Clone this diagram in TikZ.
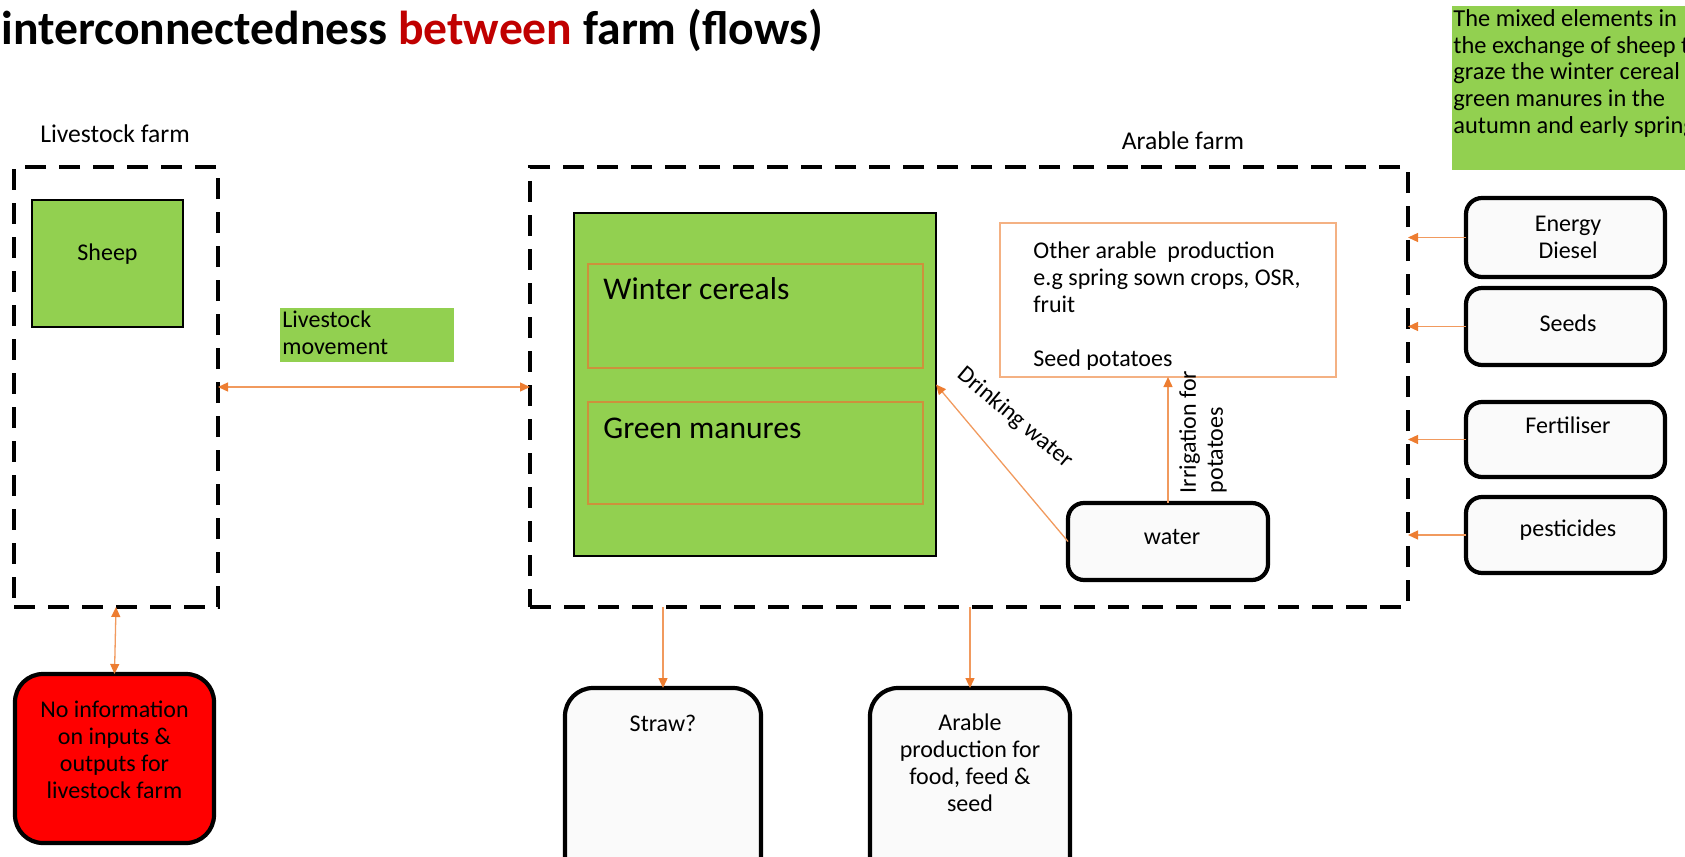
\documentclass[tikz,border=0pt]{standalone}
\usepackage{fontspec}
\setmainfont{Carlito}
\usetikzlibrary{arrows.meta}
\definecolor{grass}{HTML}{92D050}
\definecolor{flow}{HTML}{ED7D31}
\definecolor{flowline}{HTML}{F19A5E}
\definecolor{peach}{HTML}{F4B183}
\definecolor{rust}{HTML}{CD913C}
\definecolor{titlered}{HTML}{C00000}
\definecolor{paper}{HTML}{FAFAFA}
\begin{document}
\begin{tikzpicture}[x=0.5pt,y=-0.5pt,
  sz/.style 2 args={minimum width=#1*0.5pt,minimum height=#2*0.5pt},
  farm/.style={draw=black,line width=2.1pt,dash pattern=on 10.5pt off 6.5pt,inner sep=0pt,outer sep=0pt},
  rbox/.style={draw=black,line width=2.1pt,fill=paper,rounded corners=8pt,inner sep=0pt,outer sep=0pt},
  tallbox/.style={rbox,rounded corners=14pt},
  plain/.style={inner sep=0pt,outer sep=0pt},
  flowarrow/.style={draw=flowline,line width=0.65pt,-{Triangle[length=5pt,width=4.5pt,color=flow]}},
  twoway/.style={draw=flowline,line width=0.65pt,{Triangle[length=5pt,width=4.5pt,color=flow]}-{Triangle[length=5pt,width=4.5pt,color=flow]}},
  txt/.style={inner sep=0pt,font=\fontsize{12}{13.5}\selectfont,align=center},
  lefttxt/.style={txt,align=left,anchor=north west},
]
\useasboundingbox (0,0) rectangle (1685,856);
\clip (0,0) rectangle (1685,856);

% title
\node[anchor=base west,inner sep=0pt,font=\fontsize{23.8}{28}\selectfont\bfseries] (title) at (1,45)
  {interconnectedness \textcolor{titlered}{between} farm (flows)};

% farm boundaries
\node[farm,sz={204}{440}] (livestock) at (116,387) {};
\node[farm,sz={878}{440}] (arable) at (969,387) {};
\node[txt,font=\fontsize{12.8}{15}\selectfont] (lflab) at (115,134) {Livestock farm};
\node[txt,font=\fontsize{12.8}{15}\selectfont] (aflab) at (1183,141) {Arable farm};

% note
\node[plain,fill=grass,sz={240}{164},anchor=north west] (note) at (1452,6) {};
\node[lefttxt,font=\fontsize{12.2}{13.4}\selectfont] (notetxt) at (1453,9)
  {The mixed elements in\\the exchange of sheep to\\graze the winter cereal \&\\green manures in the\\autumn and early spring};

% livestock farm
\node[plain,draw=black,line width=0.7pt,fill=grass,sz={151}{127}] (sheep) at (107.5,263.5) {};
\node[txt] (sheeptxt) at (107.5,254) {Sheep};

\node[plain,fill=grass,sz={174}{54},anchor=north west] (move) at (280,308) {};
\node[lefttxt] (movetxt) at (282,310) {Livestock\\movement};

% arable farm
\node[plain,draw=black,line width=0.8pt,fill=grass,sz={362}{343}] (gbox) at (755,384.5) {};
\node[plain,draw=rust,line width=0.55pt,sz={335}{104}] (winter) at (755.5,316) {};
\node[plain,draw=rust,line width=0.55pt,sz={335}{102}] (manure) at (755.5,453) {};
\node[txt,anchor=west,font=\fontsize{15.8}{18}\selectfont] (wintertxt) at (603,289) {Winter cereals};
\node[txt,anchor=west,font=\fontsize{15.8}{18}\selectfont] (manuretxt) at (603,428) {Green manures};

\node[plain,draw=peach,line width=1pt,fill=white,sz={336}{154}] (other) at (1168,300) {};
\node[lefttxt] (othertxt) at (1033,241)
  {Other arable\ \ production\\e.g spring sown crops, OSR,\\fruit\\\mbox{}\\Seed potatoes};

\node[rbox,sz={200}{77}] (water) at (1168,541.5) {};
\node[txt] (watertxt) at (1172,537) {water};

% inputs
\node[rbox,sz={199}{79}] (energy) at (1565.5,237.5) {};
\node[rbox,sz={199}{77}] (seeds) at (1565.5,326.5) {};
\node[rbox,sz={199}{75}] (fert) at (1565.5,439.5) {};
\node[rbox,sz={199}{76}] (pest) at (1565.5,535) {};
\node[txt] (energytxt) at (1568,237) {Energy\\Diesel};
\node[txt] (seedstxt) at (1568,323) {Seeds};
\node[txt] (ferttxt) at (1568,425) {Fertiliser};
\node[txt] (pesttxt) at (1568,530) {pesticides};

% outputs
\node[tallbox,fill=red,sz={199}{169}] (noinfo) at (114.5,758.5) {};
\node[txt] (noinfotxt) at (114.5,750) {No information\\on inputs \&\\outputs for\\livestock farm};
\node[tallbox,sz={196}{212}] (straw) at (663,794) {};
\node[txt] (strawtxt) at (663,723) {Straw?};
\node[tallbox,sz={200}{212}] (prod) at (970,794) {};
\node[txt] (prodtxt) at (970,763) {Arable\\production for\\food, feed \&\\seed};

% flows
\draw[twoway] (livestock.east) -- (arable.west);
\draw[twoway] (livestock.south) -- (noinfo.north);
\draw[flowarrow] (arable.south -| straw.north) -- (straw.north);
\draw[flowarrow] (arable.south -| prod.north) -- (prod.north);
\draw[flowarrow] (energy.west) -- (energy.west -| arable.east);
\draw[flowarrow] (seeds.west) -- (seeds.west -| arable.east);
\draw[flowarrow] (fert.west) -- (fert.west -| arable.east);
\draw[flowarrow] (pest.west) -- (pest.west -| arable.east);
\draw[flowarrow] (water.north) -- (other.south);
\draw[flowarrow] (water.west) -- (gbox.east);

\node[txt,rotate=-40] (drinktxt) at (1015,418) {Drinking water};
\node[txt,rotate=90,align=left] (irrtxt) at (1203,432) {Irrigation for\\potatoes};
\end{tikzpicture}
\end{document}
